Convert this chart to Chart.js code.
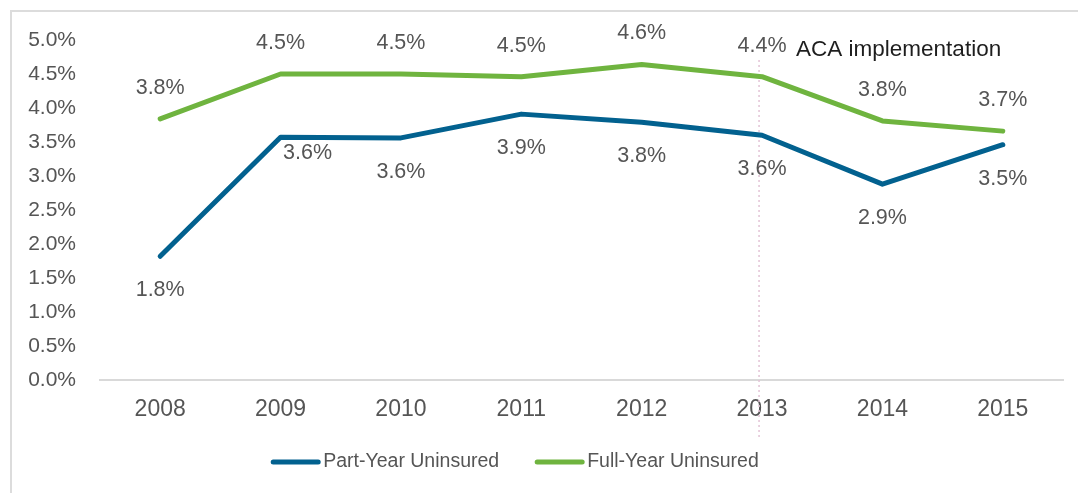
<!DOCTYPE html>
<html>
<head>
<meta charset="utf-8">
<script src="https://cdn.jsdelivr.net/npm/chart.js@4"></script>
<style>
  html, body { margin: 0; padding: 0; background: #fff; overflow: hidden; }
  #wrap { position: relative; width: 1078px; height: 493px; overflow: hidden; }
  #frame { position: absolute; left: 10px; top: 10px; width: 1100px; height: 500px;
           border-top: 2px solid #dcdcdc; border-left: 2px solid #dcdcdc; box-sizing: border-box; }
  canvas { position: absolute; left: 0; top: 0; }
</style>
</head>
<body>
<div id="wrap">
  <div id="frame"></div>
  <canvas id="c" width="1078" height="493"></canvas>
</div>
<script>
const years = ['2008', '2009', '2010', '2011', '2012', '2013', '2014', '2015'];
const partYearUninsured = [1.82, 3.57, 3.56, 3.91, 3.79, 3.60, 2.88, 3.46];
const fullYearUninsured = [3.84, 4.50, 4.50, 4.46, 4.64, 4.46, 3.81, 3.66];
const partYearLabels = ['1.8%', '3.6%', '3.6%', '3.9%', '3.8%', '3.6%', '2.9%', '3.5%'];
const fullYearLabels = ['3.8%', '4.5%', '4.5%', '4.5%', '4.6%', '4.4%', '3.8%', '3.7%'];
const yTickValues = [0, 0.5, 1, 1.5, 2, 2.5, 3, 3.5, 4, 4.5, 5];
const annotationYear = '2013';
const annotationText = 'ACA implementation';

const FONT = '"Liberation Sans", Arial, sans-serif';
const GRAY = '#555555';
const BLUE = '#02618f';
const GREEN = '#6fb43f';

const dataLabelPlugin = {
  id: 'dataLabelPlugin',
  afterDatasetsDraw(chart) {
    const ctx = chart.ctx;
    ctx.save();
    ctx.font = '21.5px ' + FONT;
    ctx.fillStyle = GRAY;
    ctx.textAlign = 'center';
    ctx.textBaseline = 'middle';
    chart.data.datasets.forEach((ds, di) => {
      const meta = chart.getDatasetMeta(di);
      meta.data.forEach((pt, i) => {
        let dx = 0, dy = ds.labelOffset;
        const ov = (ds.labelOverrides || {})[i];
        if (ov) { dx = ov.dx; dy = ov.dy; }
        ctx.fillText(ds.valueLabels[i], pt.x + dx, pt.y + dy);
      });
    });
    ctx.restore();
  }
};

const annotationPlugin = {
  id: 'annotationPlugin',
  beforeDatasetsDraw(chart) {
    const ctx = chart.ctx;
    const x = chart.scales.x.getPixelForValue(years.indexOf(annotationYear)) - 3;
    ctx.save();
    ctx.strokeStyle = '#e3c3d6';
    ctx.lineWidth = 1.5;
    ctx.setLineDash([2, 3]);
    ctx.beginPath();
    ctx.moveTo(x, 60);
    ctx.lineTo(x, 437);
    ctx.stroke();
    ctx.restore();
  },
  afterDatasetsDraw(chart) {
    const ctx = chart.ctx;
    const x = chart.scales.x.getPixelForValue(years.indexOf(annotationYear));
    ctx.save();
    ctx.font = '22.5px ' + FONT;
    ctx.fillStyle = '#1e1e1e';
    ctx.textAlign = 'left';
    ctx.textBaseline = 'middle';
    ctx.fillText(annotationText, x + 34, 50);
    ctx.restore();
  }
};

const legendPlugin = {
  id: 'customLegend',
  afterDraw(chart) {
    const ctx = chart.ctx;
    ctx.save();
    ctx.font = '19.5px ' + FONT;
    ctx.textBaseline = 'middle';
    const lineW = 49, gap = 3, itemGap = 36, cy = 462;
    const items = chart.data.datasets.map(d => ({ label: d.label, color: d.borderColor, w: ctx.measureText(d.label).width }));
    const total = items.reduce((s, it) => s + lineW + gap + it.w, 0) + itemGap * (items.length - 1);
    let x = 515 - total / 2;
    items.forEach(it => {
      ctx.strokeStyle = it.color;
      ctx.lineWidth = 5;
      ctx.lineCap = 'round';
      ctx.beginPath();
      ctx.moveTo(x + 2, cy);
      ctx.lineTo(x + lineW - 2, cy);
      ctx.stroke();
      ctx.fillStyle = GRAY;
      ctx.fillText(it.label, x + lineW + gap, cy);
      x += lineW + gap + it.w + itemGap;
    });
    ctx.restore();
  }
};

new Chart(document.getElementById('c'), {
  type: 'line',
  data: {
    labels: years,
    datasets: [
      {
        label: 'Part-Year Uninsured',
        data: partYearUninsured,
        valueLabels: partYearLabels,
        labelOffset: 34,
        labelOverrides: { 1: { dx: 27, dy: 16 } },
        borderColor: BLUE,
        backgroundColor: BLUE,
        borderWidth: 5,
        borderCapStyle: 'round',
        borderJoinStyle: 'round',
        pointRadius: 0,
        tension: 0
      },
      {
        label: 'Full-Year Uninsured',
        data: fullYearUninsured,
        valueLabels: fullYearLabels,
        labelOffset: -31,
        borderColor: GREEN,
        backgroundColor: GREEN,
        borderWidth: 5,
        borderCapStyle: 'round',
        borderJoinStyle: 'round',
        pointRadius: 0,
        tension: 0
      }
    ]
  },
  options: {
    responsive: false,
    animation: false,
    devicePixelRatio: 1,
    layout: { padding: { left: 0, right: 15, top: 40, bottom: 0 } },
    plugins: { legend: { display: false }, tooltip: { enabled: false } },
    scales: {
      x: {
        offset: true,
        grid: { display: false, drawTicks: false },
        border: { display: true, color: '#d9d9d9', width: 2 },
        ticks: { color: GRAY, font: { family: FONT, size: 23 }, padding: 16 },
        afterFit(s) { s.height = 113; }
      },
      y: {
        min: 0, max: 5,
        grid: { display: false, drawTicks: false },
        border: { display: false },
        afterBuildTicks(s) { s.ticks = yTickValues.map(v => ({ value: v })); },
        ticks: {
          color: GRAY,
          font: { family: FONT, size: 21 },
          padding: 24,
          callback: v => Number(v).toFixed(1) + '%'
        },
        afterFit(s) { s.width = 100; }
      }
    }
  },
  plugins: [annotationPlugin, dataLabelPlugin, legendPlugin]
});
</script>
</body>
</html>
